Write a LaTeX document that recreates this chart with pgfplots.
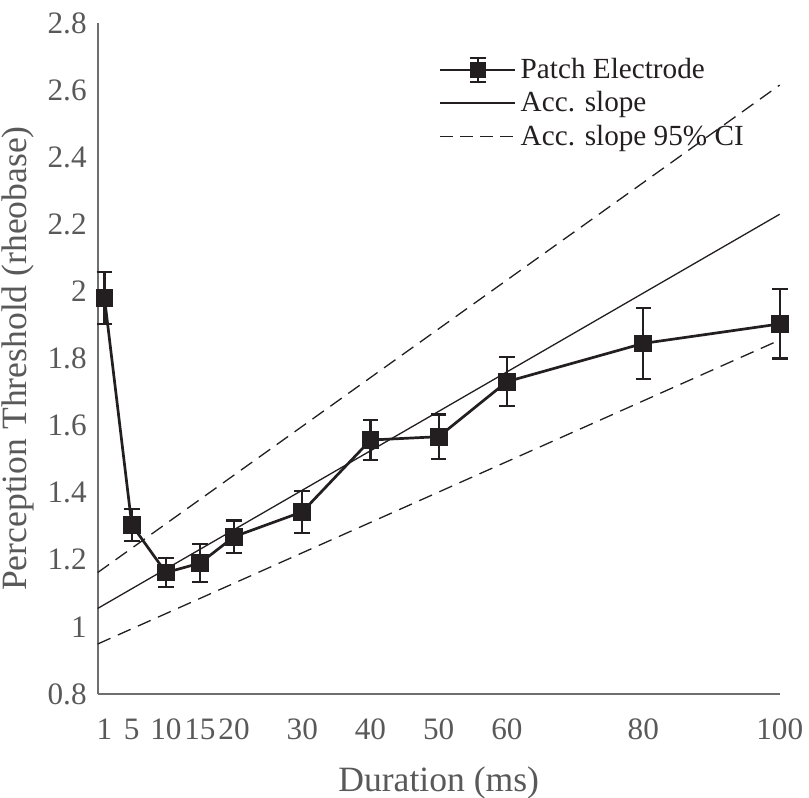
\documentclass[border=0pt]{standalone}
\usepackage{fontspec}
\setmainfont{Liberation Serif}
\usepackage{pgfplots}
\pgfplotsset{compat=1.18}
\definecolor{axgray}{HTML}{6E6E6E}
\definecolor{txgray}{HTML}{595959}
\definecolor{ink}{HTML}{231F20}
\pgfplotsset{
  longline/.style={legend image code/.code={\draw[##1] (0pt,0pt) -- (37.5pt,0pt);}},
  patchleg/.style={legend image code/.code={
    \draw[##1, mark=none] (0pt,0pt) -- (37.5pt,0pt);
    \draw[ink, line width=1.1pt] (18.75pt,-6pt) -- (18.75pt,6pt)
      (14.9pt,6pt) -- (22.6pt,6pt) (14.9pt,-6pt) -- (22.6pt,-6pt);
    \fill[ink] (15.4pt,-3.4pt) rectangle (22.1pt,3.4pt);}},
}

\begin{document}
\begin{tikzpicture}
\useasboundingbox (-48.85pt,-52pt) rectangle (355.65pt,347pt);
\begin{axis}[
  scale only axis, width=341pt, height=335.5pt,
  xmin=0, xmax=100, ymin=0.8, ymax=2.8,
  axis x line=bottom, axis y line=left,
  axis line style={-, axgray, line width=0.85pt},
  xtick={1,5,10,15,20,30,40,50,60,80,100},
  ytick={0.8,1,1.2,1.4,1.6,1.8,2,2.2,2.4,2.6,2.8},
  yticklabels={0.8,1,1.2,1.4,1.6,1.8,2,2.2,2.4,2.6,2.8},
  major tick length=0pt,
  /pgf/number format/assume math mode=true,
  tick label style={font=\fontsize{15.6}{17}\selectfont, text=txgray},
  xticklabel style={yshift=-9pt},
  yticklabel style={xshift=-2pt},
  xlabel={Duration (ms)}, ylabel={Perception Threshold (rheobase)},
  label style={font=\fontsize{17.8}{20}\selectfont, text=txgray},
  xlabel style={yshift=-6.5pt},
  clip=false,
  legend cell align=left,
  legend style={draw=none, fill=none, font=\fontsize{14.6}{16}\selectfont, text=ink,
    at={(axis description cs:0.497,0.957)}, anchor=north west,
    row sep=1pt, inner sep=1pt},
]
\addplot[ink, line width=1.35pt, mark=square*, mark size=4.2pt,
  mark options={solid, fill=ink, line width=0.5pt}, patchleg,
  error bars/.cd, y dir=both, y explicit,
  error bar style={line width=1.1pt, ink},
  error mark options={rotate=90, mark size=3.9pt, line width=1.1pt, ink}]
  coordinates {
  (1,1.98) +- (0,0.078)
  (5,1.304) +- (0,0.048)
  (10,1.162) +- (0,0.043)
  (15,1.19) +- (0,0.057)
  (20,1.269) +- (0,0.048)
  (30,1.343) +- (0,0.062)
  (40,1.557) +- (0,0.060)
  (50,1.567) +- (0,0.066)
  (60,1.731) +- (0,0.073)
  (80,1.845) +- (0,0.105)
  (100,1.903) +- (0,0.103)
  };
\addlegendentry{Patch Electrode}
\addplot[ink, line width=0.65pt, forget plot] coordinates {(0,1.055) (100,2.23)};
\addplot[ink, line width=0.65pt, dash pattern=on 7pt off 4pt, forget plot] coordinates {(0,1.162) (100,2.615)};
\addplot[ink, line width=0.65pt, dash pattern=on 7pt off 4pt, forget plot] coordinates {(0,0.949) (100,1.855)};
\addlegendimage{ink, line width=0.65pt, longline}
\addlegendentry{Acc. slope}
\addlegendimage{ink, line width=0.65pt, dash pattern=on 6.5pt off 3.5pt, longline}
\addlegendentry{Acc. slope 95\% CI}
\end{axis}
\end{tikzpicture}
\end{document}
